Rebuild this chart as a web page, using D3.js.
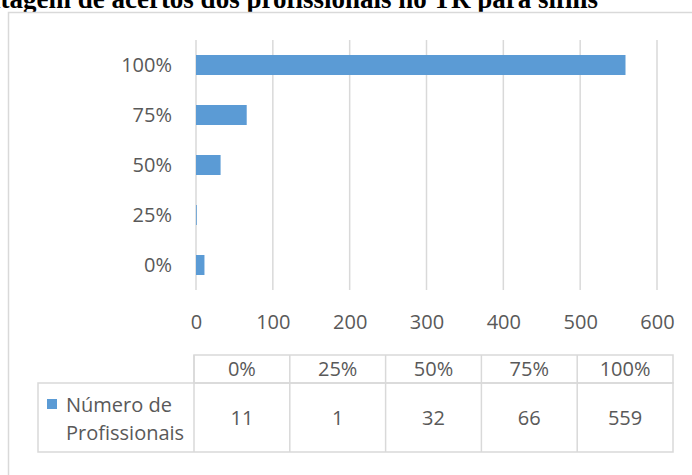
<!DOCTYPE html>
<html>
<head>
<meta charset="utf-8">
<script src="https://cdn.jsdelivr.net/npm/d3@7"></script>
<style>
  html, body { margin: 0; padding: 0; background: #fff; overflow: hidden; }
  svg { display: block; }
</style>
</head>
<body>
<svg id="chart" width="692" height="475"></svg>
<script>
// Data
const categories = ["0%", "25%", "50%", "75%", "100%"];
const values = [11, 1, 32, 66, 559];
const xTicks = [0, 100, 200, 300, 400, 500, 600];
const seriesName = ["Número de", "Profissionais"];
const title = "Porcentagem de acertos dos profissionais no TR para sífilis";

const svg = d3.select("#chart");
const textColor = "#595959";
const lineColor = "#d9d9d9";
const barColor = "#5b9bd5";
const font = "'Open Sans', sans-serif";
const fs = 20;

// Title (runs past the top edge of the page)
svg.append("text")
  .attr("x", 598).attr("y", 7.5)
  .attr("text-anchor", "end")
  .attr("font-family", "'Liberation Serif', 'Times New Roman', serif")
  .attr("font-weight", "bold")
  .attr("font-size", 27)
  .attr("fill", "#000")
  .text(title);

// Chart frame
svg.append("rect")
  .attr("x", 8.5).attr("y", 12.5)
  .attr("width", 720).attr("height", 500)
  .attr("fill", "#fff")
  .attr("stroke", lineColor).attr("stroke-width", 1.5);

// Scales
const x = d3.scaleLinear().domain([0, 600]).range([196, 657]);
const y = d3.scaleBand()
  .domain(categories.slice().reverse())
  .range([40, 290])
  .paddingInner(0.6)
  .paddingOuter(0.3);

// Gridlines
svg.append("g").selectAll("line")
  .data(xTicks)
  .join("line")
  .attr("x1", d => x(d)).attr("x2", d => x(d))
  .attr("y1", 40).attr("y2", 290)
  .attr("stroke", lineColor).attr("stroke-width", 1.5);

// Bars
svg.append("g").selectAll("rect")
  .data(categories.map((c, i) => ({ c, v: values[i] })))
  .join("rect")
  .attr("x", x(0))
  .attr("y", d => y(d.c))
  .attr("width", d => x(d.v) - x(0))
  .attr("height", y.bandwidth())
  .attr("fill", barColor);

// Category axis (labels only)
const yAxis = d3.axisLeft(y).tickSize(0).tickPadding(0);
const yg = svg.append("g").attr("transform", "translate(172,0)").call(yAxis);
yg.select(".domain").remove();
yg.selectAll("text")
  .attr("font-family", font).attr("font-size", fs)
  .attr("fill", textColor)
  .attr("dy", "0.35em");

// Value axis (labels only)
const xAxis = d3.axisBottom(x).tickValues(xTicks).tickSize(0).tickPadding(0);
const xg = svg.append("g").attr("transform", "translate(0,315)").call(xAxis);
xg.select(".domain").remove();
xg.selectAll("text")
  .attr("font-family", font).attr("font-size", fs)
  .attr("fill", textColor)
  .attr("dy", "0.71em");

// Data table
const col = d3.scaleBand().domain(categories).range([194, 673]);
const hTop = 355, hBot = 383, dBot = 452, tLeft = 38;
const tbl = svg.append("g")
  .attr("stroke", lineColor).attr("stroke-width", 1.5).attr("fill", "none");
// header row
tbl.append("rect").attr("x", col.range()[0]).attr("y", hTop)
  .attr("width", col.range()[1] - col.range()[0]).attr("height", hBot - hTop);
// data row
tbl.append("rect").attr("x", tLeft).attr("y", hBot)
  .attr("width", col.range()[1] - tLeft).attr("height", dBot - hBot);
// column dividers
tbl.selectAll("line.div")
  .data(categories)
  .join("line")
  .attr("x1", d => col(d)).attr("x2", d => col(d))
  .attr("y1", hTop).attr("y2", dBot);

// header labels
svg.append("g").selectAll("text")
  .data(categories)
  .join("text")
  .attr("x", d => col(d) + col.bandwidth() / 2)
  .attr("y", (hTop + hBot) / 2)
  .attr("dy", "0.35em")
  .attr("text-anchor", "middle")
  .attr("font-family", font).attr("font-size", fs)
  .attr("fill", textColor)
  .text(d => d);

// values
svg.append("g").selectAll("text")
  .data(categories.map((c, i) => ({ c, v: values[i] })))
  .join("text")
  .attr("x", d => col(d.c) + col.bandwidth() / 2)
  .attr("y", (hBot + dBot) / 2)
  .attr("dy", "0.35em")
  .attr("text-anchor", "middle")
  .attr("font-family", font).attr("font-size", fs)
  .attr("fill", textColor)
  .text(d => d.v);

// legend key and series name
svg.append("rect")
  .attr("x", 47).attr("y", 399)
  .attr("width", 10).attr("height", 10)
  .attr("fill", barColor);
svg.append("g").selectAll("text")
  .data(seriesName)
  .join("text")
  .attr("x", 66)
  .attr("y", (d, i) => 405 + i * 28)
  .attr("dy", "0.35em")
  .attr("font-family", font).attr("font-size", fs)
  .attr("fill", textColor)
  .text(d => d);
</script>
</body>
</html>
